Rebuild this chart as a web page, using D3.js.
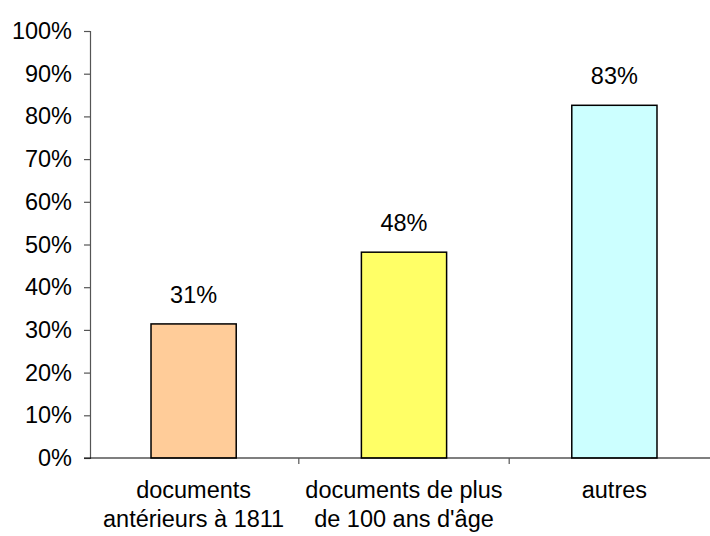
<!DOCTYPE html>
<html>
<head>
<meta charset="utf-8">
<script src="https://cdn.jsdelivr.net/npm/d3@7"></script>
<style>
  body { margin: 0; background: #fff; }
  text { font-family: "Liberation Sans", Arial, sans-serif; fill: #000; }
</style>
</head>
<body>
<div id="container"></div>
<script>
// data
const categories = ["documents antérieurs à 1811", "documents de plus de 100 ans d'âge", "autres"];
const labelLines = [["documents", "antérieurs à 1811"], ["documents de plus", "de 100 ans d'âge"], ["autres"]];
const values = [0.314, 0.482, 0.826];
const colors = ["#FFCC99", "#FFFF66", "#CCFFFF"];
const yTicks = [0, 0.1, 0.2, 0.3, 0.4, 0.5, 0.6, 0.7, 0.8, 0.9, 1];

const W = 710, H = 536;
const margin = {top: 31, left: 90, bottom: 78};
const fontSize = "23.5px";

const svg = d3.select("#container")
  .append("svg")
    .attr("width", W)
    .attr("height", H);

const x = d3.scaleBand()
  .domain(categories)
  .range([margin.left, margin.left + 628])
  .paddingInner(0.595)
  .paddingOuter(0.29);

const y = d3.scaleLinear()
  .domain([0, 1])
  .range([H - margin.bottom, margin.top]);

// y axis
const yAxis = svg.append("g")
  .attr("transform", `translate(${margin.left},0)`)
  .call(d3.axisLeft(y).tickValues(yTicks).tickFormat(d3.format(".0%")).tickSize(6).tickPadding(12));
yAxis.select(".domain").attr("stroke", "#555").attr("stroke-width", 1.2);
yAxis.selectAll(".tick line").attr("stroke", "#555").attr("stroke-width", 1.2);
yAxis.selectAll("text").style("font-size", fontSize).attr("font-family", "Liberation Sans, Arial, sans-serif").attr("fill", "#000");

// bars
svg.selectAll(".bar")
  .data(values)
  .enter()
  .append("rect")
    .attr("class", "bar")
    .attr("x", (d, i) => x(categories[i]))
    .attr("y", d => y(d))
    .attr("width", x.bandwidth())
    .attr("height", d => y(0) - y(d))
    .attr("fill", (d, i) => colors[i])
    .attr("stroke", "#000")
    .attr("stroke-width", 1.5);

// x axis line + ticks between categories
const y0 = y(0);
svg.append("line")
  .attr("x1", margin.left - 6).attr("x2", W)
  .attr("y1", y0).attr("y2", y0)
  .attr("stroke", "#000").attr("stroke-width", 1.2);

svg.selectAll(".xtick")
  .data(categories)
  .enter()
  .append("line")
    .attr("x1", d => x(d) + x.bandwidth() / 2 + x.step() / 2)
    .attr("x2", d => x(d) + x.bandwidth() / 2 + x.step() / 2)
    .attr("y1", y0).attr("y2", y0 + 6)
    .attr("stroke", "#555").attr("stroke-width", 1.2);

// value labels
svg.selectAll(".val")
  .data(values)
  .enter()
  .append("text")
    .attr("x", (d, i) => x(categories[i]) + x.bandwidth() / 2)
    .attr("y", d => y(d) - 21)
    .attr("text-anchor", "middle")
    .style("font-size", fontSize)
    .text(d => Math.round(d * 100) + "%");

// category labels
const catText = svg.selectAll(".cat")
  .data(categories)
  .enter()
  .append("text")
    .attr("text-anchor", "middle")
    .style("font-size", fontSize);

catText.selectAll("tspan")
  .data((d, i) => labelLines[i].map(l => ({l, cx: x(d) + x.bandwidth() / 2})))
  .enter()
  .append("tspan")
    .attr("x", d => d.cx)
    .attr("y", (d, i) => y0 + 40 + i * 29)
    .text(d => d.l);
</script>
</body>
</html>
